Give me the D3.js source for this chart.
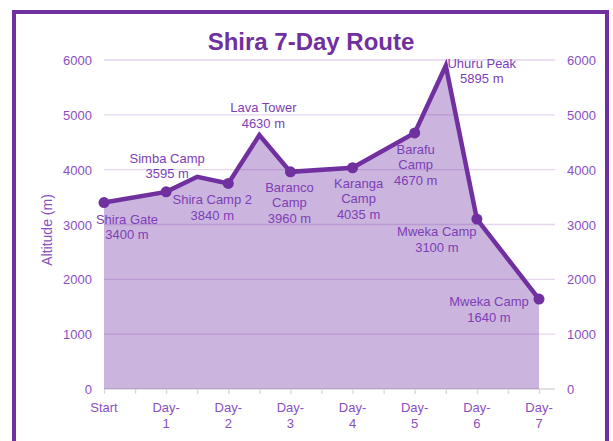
<!DOCTYPE html>
<html>
<head>
<meta charset="utf-8">
<script src="https://cdn.jsdelivr.net/npm/d3@7/dist/d3.min.js"></script>
<style>
  body { margin: 0; background: #fff; }
  text { font-family: Arial, "Liberation Sans", sans-serif; }
</style>
</head>
<body>
<div id="chart"></div>
<script>
// category labels along the bottom (two lines each)
var dayLabels = [["Start"], ["Day-", "1"], ["Day-", "2"], ["Day-", "3"], ["Day-", "4"], ["Day-", "5"], ["Day-", "6"], ["Day-", "7"]];
var altitudeTicks = [0, 1000, 2000, 3000, 4000, 5000, 6000];

// route profile, day number -> altitude in m
var routeDays = [0, 1, 1.5, 2, 2.5, 3, 4, 5, 5.5, 6, 7];
var routeAltitudes = [3400, 3595, 3870, 3750, 4630, 3960, 4035, 4670, 5895, 3100, 1640];

// camp labels
var campNames = [["Shira Gate"], ["Simba Camp"], ["Shira Camp 2"], ["Lava Tower"], ["Baranco", "Camp"],
                 ["Karanga", "Camp"], ["Barafu", "Camp"], ["Uhuru Peak"], ["Mweka Camp"], ["Mweka Camp"]];
var campAltitudes = [3400, 3595, 3840, 4630, 3960, 4035, 4670, 5895, 3100, 1640];
var campDays = [0, 1, 2, 2.5, 3, 4, 5, 5.5, 6, 7];

// nudges of each label away from its point (px)
var labelDx = [23, 1, -16, 4, -1, 6, 1, 36, -40, -50];
var labelDy = [21, -29, 21, -23, 20, 20, 21, 2, 17, 7];

var width = 613, height = 441;
var purple = "#7030a0";
var labelColor = "#7d40b6";
var tickColor = "#8a50c2";

var svg = d3.select("#chart").append("svg")
  .attr("width", width)
  .attr("height", height);

var x = d3.scaleLinear().domain([0, 7]).range([104, 539]);
var y = d3.scaleLinear().domain([0, 6000]).range([389, 60]);

function altitudeAt(day) {
  return routeAltitudes[routeDays.indexOf(day)];
}

// gridlines
svg.selectAll("line.grid")
  .data(altitudeTicks.slice(1))
  .enter()
  .append("line")
    .attr("class", "grid")
    .attr("x1", x(0))
    .attr("x2", x(7) + 16)
    .attr("y1", function(d) { return y(d); })
    .attr("y2", function(d) { return y(d); })
    .attr("stroke", "#e4d6ef")
    .attr("stroke-width", 1.3);

// x axis with half-day ticks
var halfDays = d3.range(0, 7.01, 0.5);
svg.append("g")
  .attr("transform", "translate(0," + y(0) + ")")
  .call(d3.axisBottom(x).tickValues(halfDays).tickSize(5).tickFormat(""))
  .call(function(g) {
    g.select(".domain").remove();
    g.selectAll(".tick line").attr("stroke", "#d9d9d9").attr("stroke-width", 1.3);
  });

svg.append("line")
  .attr("x1", x(0))
  .attr("x2", x(7) + 16)
  .attr("y1", y(0))
  .attr("y2", y(0))
  .attr("stroke", "#d9d9d9")
  .attr("stroke-width", 1.5);

// area under the profile
var points = routeDays.map(function(d, i) { return [d, routeAltitudes[i]]; });

svg.append("path")
  .datum(points)
  .attr("d", d3.area()
    .x(function(d) { return x(d[0]); })
    .y0(y(0))
    .y1(function(d) { return y(d[1]); }))
  .attr("fill", purple)
  .attr("fill-opacity", 0.36);

svg.append("path")
  .datum(points)
  .attr("d", d3.line()
    .x(function(d) { return x(d[0]); })
    .y(function(d) { return y(d[1]); }))
  .attr("fill", "none")
  .attr("stroke", purple)
  .attr("stroke-width", 4.5)
  .attr("stroke-linejoin", "miter");

// markers only on whole days
svg.selectAll("circle")
  .data(points.filter(function(d) { return d[0] % 1 === 0; }))
  .enter()
  .append("circle")
    .attr("cx", function(d) { return x(d[0]); })
    .attr("cy", function(d) { return y(d[1]); })
    .attr("r", 5.5)
    .attr("fill", purple);

// y tick labels, both sides
svg.selectAll("text.yl")
  .data(altitudeTicks)
  .enter()
  .append("text")
    .attr("class", "yl")
    .attr("x", 92)
    .attr("y", function(d) { return y(d) + 5; })
    .attr("text-anchor", "end")
    .attr("font-size", 13)
    .attr("fill", tickColor)
    .text(function(d) { return d; });

svg.selectAll("text.yr")
  .data(altitudeTicks)
  .enter()
  .append("text")
    .attr("class", "yr")
    .attr("x", 567)
    .attr("y", function(d) { return y(d) + 5; })
    .attr("text-anchor", "start")
    .attr("font-size", 13)
    .attr("fill", tickColor)
    .text(function(d) { return d; });

// x labels
var xl = svg.selectAll("text.xl")
  .data(dayLabels)
  .enter()
  .append("text")
    .attr("class", "xl")
    .attr("text-anchor", "middle")
    .attr("font-size", 13)
    .attr("fill", tickColor);

xl.selectAll("tspan")
  .data(function(d, i) { return d.map(function(s) { return {s: s, i: i}; }); })
  .enter()
  .append("tspan")
    .attr("x", function(d) { return x(d.i); })
    .attr("y", function(d, j) { return 412 + j * 15.5; })
    .text(function(d) { return d.s; });

// camp labels
var cl = svg.selectAll("text.camp")
  .data(campNames)
  .enter()
  .append("text")
    .attr("class", "camp")
    .attr("text-anchor", "middle")
    .attr("font-size", 13)
    .attr("fill", labelColor);

cl.selectAll("tspan")
  .data(function(d, i) {
    var lines = d.concat([campAltitudes[i] + " m"]);
    return lines.map(function(s) { return {s: s, i: i}; });
  })
  .enter()
  .append("tspan")
    .attr("x", function(d) { return x(campDays[d.i]) + labelDx[d.i]; })
    .attr("y", function(d, j) { return y(altitudeAt(campDays[d.i])) + labelDy[d.i] + j * 15.5; })
    .text(function(d) { return d.s; });

// axis title
svg.append("text")
  .attr("transform", "translate(52,230) rotate(-90)")
  .attr("text-anchor", "middle")
  .attr("font-size", 14)
  .attr("fill", tickColor)
  .text("Altitude (m)");

// chart title
svg.append("text")
  .attr("x", 311)
  .attr("y", 50)
  .attr("text-anchor", "middle")
  .attr("font-size", 24)
  .attr("font-weight", "bold")
  .attr("fill", purple)
  .text("Shira 7-Day Route");

// outer frame
svg.append("rect")
  .attr("x", 14)
  .attr("y", 12)
  .attr("width", 593)
  .attr("height", 480)
  .attr("fill", "none")
  .attr("stroke", purple)
  .attr("stroke-width", 4);
</script>
</body>
</html>
